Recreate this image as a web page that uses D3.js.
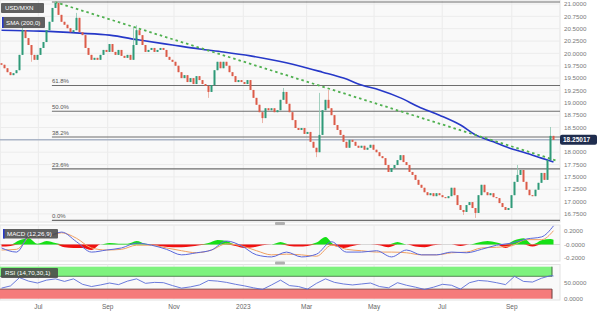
<!DOCTYPE html>
<html><head><meta charset="utf-8">
<script src="https://cdn.jsdelivr.net/npm/d3@7"></script>
<style>html,body{margin:0;padding:0;background:#fff;} svg{display:block;font-family:"Liberation Sans",Arial,sans-serif;}</style>
</head><body><svg id="c" width="600" height="313"></svg>
<script>
// ---------- DATA ----------
const firstOpen = 19.80;
const closes = [
19.77,19.70,19.62,19.56,19.60,19.66,19.97,20.47,20.31,20.17,
19.97,19.87,19.97,20.11,20.23,20.47,20.64,20.92,21.02,20.78,
20.64,20.58,20.51,20.43,20.47,20.72,20.43,20.37,20.11,19.97,
19.87,19.91,19.87,19.97,20.07,20.03,20.19,20.03,19.97,20.07,
19.95,19.91,19.97,19.87,20.17,20.47,20.37,20.17,20.03,20.07,
20.11,20.03,20.07,20.11,20.07,19.93,19.87,19.83,19.75,19.62,
19.50,19.56,19.42,19.50,19.38,19.54,19.46,19.38,19.34,19.22,
19.36,19.66,19.83,19.70,19.83,19.75,19.62,19.54,19.42,19.46,
19.42,19.38,19.46,19.26,19.10,18.96,18.81,18.69,18.89,18.85,
18.89,18.81,18.85,19.06,19.22,18.98,18.81,18.65,18.49,18.45,
18.49,18.37,18.41,18.21,18.09,18.00,18.35,18.85,19.06,18.89,
18.75,18.55,18.45,18.35,18.21,18.09,18.25,18.21,18.13,18.09,
18.13,18.05,18.09,18.15,18.05,18.00,17.92,17.88,17.74,17.60,
17.68,17.74,17.84,17.94,17.80,17.74,17.60,17.54,17.44,17.34,
17.28,17.19,17.13,17.17,17.11,17.17,17.13,17.09,17.07,17.11,
17.28,17.13,16.93,16.83,16.79,16.93,16.99,16.87,16.77,17.13,
17.34,17.19,17.13,17.17,17.09,17.07,16.97,16.89,16.83,16.87,
17.13,17.40,17.54,17.64,17.40,17.24,17.13,17.11,17.24,17.38,
17.58,17.44,17.84,18.33,18.25
];
const wickHigh = [[7,20.62],[18,21.06],[25,20.82],[44,20.53],[45,20.57],[94,19.30],[106,19.20],[109,19.26],[172,17.74],[183,18.51]];
const wickLow = [[10,19.83],[69,19.10],[87,18.59],[105,17.90],[154,16.73],[158,16.67]];

const smaIdx = [0,13,26,36,46,57,66,74,83,90,99,107,114,120,126,133,139,146,153,158,164,169,175,180,184];
const smaVal = [20.47,20.45,20.41,20.37,20.27,20.17,20.09,20.03,19.95,19.87,19.75,19.62,19.50,19.36,19.26,19.10,18.92,18.75,18.55,18.35,18.21,18.09,17.98,17.88,17.80];

const trendIdx = [17.8, 185];
const trendVal = [21.04, 17.83];

const fibStartIdx = 16.8;
const fibHigh = 21.04, fibLow = 16.62;
const fibLevels = [0, 0.236, 0.382, 0.5, 0.618, 1];
const fibLabels = ["0.0%", "23.6%", "38.2%", "50.0%", "61.8%", ""];
const lastPrice = 18.25017;
const lastPriceLabel = "18.25017";

const priceTicks = [21,20.75,20.5,20.25,20,19.75,19.5,19.25,19,18.75,18.5,18.25,18,17.75,17.5,17.25,17,16.75];

const lineIdx = [0,5,10,15,20,25,30,35,40,45,50,55,60,65,70,75,80,85,90,95,100,105,110,115,120,125,130,135,140,145,150,155,160,165,170,175,180,184];
const macdVal = [-0.05,-0.11,0.17,0.12,0.18,0.04,-0.11,-0.08,-0.05,0.02,-0.01,-0.07,-0.15,-0.12,-0.08,0.05,-0.02,-0.15,-0.18,-0.11,-0.18,-0.14,0.04,-0.11,-0.11,-0.09,-0.18,-0.08,-0.15,-0.15,-0.11,-0.12,-0.07,-0.01,0.02,0.08,0.11,0.27];
const signalVal = [-0.08,-0.07,0.12,0.11,0.17,0.09,-0.05,-0.08,-0.07,-0.01,-0.01,-0.05,-0.09,-0.12,-0.08,0.01,-0.02,-0.09,-0.15,-0.14,-0.15,-0.17,-0.01,-0.07,-0.09,-0.11,-0.11,-0.12,-0.15,-0.15,-0.12,-0.11,-0.05,-0.04,-0.02,0.07,0.07,0.20];

const histIdx = [0,3,6,9,12,15,18,21,24,27,30,33,36,39,42,45,48,51,54,57,60,63,66,69,72,75,78,81,84,87,90,93,96,99,102,105,108,111,114,117,120,123,126,129,132,135,138,141,144,147,150,153,156,159,162,165,168,171,174,177,180,183,184];
const histVal = [-0.03,-0.02,0.06,0.09,0.01,0.05,0.02,-0.04,-0.05,-0.05,
-0.08,0.00,0.02,0.01,0.01,0.05,0.01,-0.01,-0.03,-0.04,
-0.04,-0.03,-0.01,0.02,0.065,0.05,-0.02,-0.05,-0.04,-0.01,
0.00,0.035,-0.02,-0.03,-0.02,0.03,0.11,-0.02,-0.05,-0.02,
0.00,0.00,-0.01,-0.04,0.035,0.00,-0.03,-0.04,-0.01,0.00,
0.00,-0.02,0.00,0.03,0.05,0.03,-0.05,0.06,0.09,-0.03,
0.06,0.08,0.07];
const rsiVal = [33,40,66,55,49,58,62,54,62,45,
38,43,49,44,55,62,48,51,50,41,
33,37,43,57,55,51,45,40,34,29,
43,58,41,38,30,48,62,51,46,43,
46,49,38,34,50,42,36,29,36,45,
42,30,50,57,55,50,44,70,54,52,
64,72,71];

const macdTicks = [0.2, 0, -0.2];
const macdTickLabels = ["0.2000", "-0.0000", "-0.2000"];
const rsiTicks = [50, 0];
const rsiTickLabels = ["50.0000", "0.0000"];
const rsiUpper = 70, rsiLower = 30;

const monthIdx = [12.3, 35.4, 57.5, 80.6, 101.7, 124.2, 146.9, 170.1];
const monthLabels = ["Jul", "Sep", "Nov", "2023", "Mar", "May", "Jul", "Sep"];

const seriesName = "USD/MXN";
const smaName = "SMA (200,0)";
const macdName = "MACD (12,26,9)";
const rsiName = "RSI (14,70,30,1)";

// ---------- LAYOUT ----------
const svg = d3.select("#c");
const plotW = 560;
const main = {top: 0, bottom: 222};
const mac = {top: 225, bottom: 261};
const rsiP = {top: 264.5, bottom: 300};
const axisX = 564;

const x = d3.scaleLinear().domain([-0.5, 184.5]).range([0, 555]);
const y = d3.scaleLinear().domain([16.75, 21]).range([213.95, 4]);
const ym = d3.scaleLinear().domain([-0.2, 0.2]).range([258.3, 230.7]);
const yr = d3.scaleLinear().domain([0, 100]).range([298.7, 266.7]);

const defs = svg.append("defs");
defs.append("clipPath").attr("id","cm").append("rect").attr("x",0).attr("y",main.top).attr("width",plotW).attr("height",main.bottom-main.top);
defs.append("clipPath").attr("id","cmac").append("rect").attr("x",0).attr("y",mac.top).attr("width",plotW).attr("height",mac.bottom-mac.top);
defs.append("clipPath").attr("id","crsi").append("rect").attr("x",0).attr("y",rsiP.top).attr("width",plotW).attr("height",rsiP.bottom-rsiP.top);

// panel backgrounds
[main, mac, rsiP].forEach(p => {
  svg.append("rect").attr("x",0).attr("y",p.top).attr("width",plotW).attr("height",p.bottom-p.top)
    .attr("fill","#f9f9f9").attr("stroke","#e2e2e2").attr("stroke-width",1);
});

// vertical gridlines
[main, mac, rsiP].forEach(p => {
  svg.append("g").selectAll("line").data(monthIdx).join("line")
    .attr("x1",d=>x(d)).attr("x2",d=>x(d)).attr("y1",p.top).attr("y2",p.bottom)
    .attr("stroke","#ebebeb").attr("stroke-width",1);
});

// main horizontal grid
const gM = svg.append("g").attr("clip-path","url(#cm)");
gM.selectAll("line.grid").data(priceTicks).join("line").attr("class","grid")
  .attr("x1",0).attr("x2",plotW).attr("y1",d=>y(d)).attr("y2",d=>y(d))
  .attr("stroke","#ececec").attr("stroke-width",1);

// fib lines
const fibs = fibLevels.map((l,i)=>({v: fibLow + l*(fibHigh-fibLow), label: fibLabels[i]}));
gM.selectAll("line.fib").data(fibs).join("line").attr("class","fib")
  .attr("x1",x(fibStartIdx)).attr("x2",plotW).attr("y1",d=>y(d.v)).attr("y2",d=>y(d.v))
  .attr("stroke","#6e6e6e").attr("stroke-width",1.1);
gM.selectAll("text.fib").data(fibs).join("text").attr("class","fib")
  .attr("x",x(fibStartIdx)).attr("y",d=>y(d.v)-2).text(d=>d.label)
  .attr("font-size",6).attr("fill","#555");

// last price line
gM.append("line").attr("x1",0).attr("x2",plotW).attr("y1",y(lastPrice)).attr("y2",y(lastPrice))
  .attr("stroke","#8a98b4").attr("stroke-width",1);

// SMA
gM.append("path").datum(smaIdx.map((d,i)=>[d,smaVal[i]]))
  .attr("d", d3.line().x(d=>x(d[0])).y(d=>y(d[1])).curve(d3.curveMonotoneX))
  .attr("fill","none").attr("stroke","#2638c8").attr("stroke-width",1.6);

// trend line
gM.append("path").datum(trendIdx.map((d,i)=>[d,trendVal[i]]))
  .attr("d", d3.line().x(d=>x(d[0])).y(d=>y(d[1])))
  .attr("fill","none").attr("stroke","#4fb04f").attr("stroke-width",1.8).attr("stroke-dasharray","2.5,3");

// candles
const hiMap = new Map(wickHigh), loMap = new Map(wickLow);
const candles = closes.map((c,i)=>{
  const o = i===0 ? firstOpen : closes[i-1];
  const h = hiMap.has(i) ? hiMap.get(i) : Math.max(o,c);
  const l = loMap.has(i) ? loMap.get(i) : Math.min(o,c);
  return {i,o,c,h,l,up:c>=o};
});
const gC = gM.append("g");
gC.selectAll("line").data(candles).join("line")
  .attr("x1",d=>x(d.i)).attr("x2",d=>x(d.i)).attr("y1",d=>y(d.h)).attr("y2",d=>y(d.l))
  .attr("stroke",d=>d.up?"#8cc5b0":"#e8a396").attr("stroke-width",0.8);
gC.selectAll("rect").data(candles).join("rect")
  .attr("x",d=>x(d.i)-1).attr("width",2)
  .attr("y",d=>y(Math.max(d.o,d.c))).attr("height",d=>Math.max(0.8, Math.abs(y(d.o)-y(d.c))))
  .attr("fill",d=>d.up?"#2f9a78":"#dc5b48");

// price axis labels (the last-price tag covers the tick it sits on)
svg.append("g").selectAll("text").data(priceTicks.filter(t=>Math.abs(y(t)-y(lastPrice))>7)).join("text")
  .attr("x",axisX).attr("y",d=>y(d)).attr("dy","0.35em").text(d=>d.toFixed(4))
  .attr("font-size",6.2).attr("fill","#7a7a7a");

// last price tag
svg.append("rect").attr("x",plotW).attr("y",y(lastPrice)-5).attr("width",37).attr("height",10).attr("rx",2)
  .attr("fill","#1f2d4e");
svg.append("text").attr("x",axisX-1).attr("y",y(lastPrice)).attr("dy","0.35em").text(lastPriceLabel)
  .attr("font-size",6.5).attr("font-weight","bold").attr("fill","#fff");

// ---------- MACD ----------
const gMac = svg.append("g").attr("clip-path","url(#cmac)");
gMac.append("line").attr("x1",0).attr("x2",plotW).attr("y1",ym(0)).attr("y2",ym(0)).attr("stroke","#d8d8d8");
const histPts = histIdx.map((d,i)=>[d,histVal[i]]);
gMac.append("path").datum(histPts)
  .attr("d", d3.area().x(d=>x(d[0])).y0(ym(0)).y1(d=>ym(Math.max(0,d[1]))).curve(d3.curveMonotoneX))
  .attr("fill","#16e016");
gMac.append("path").datum(histPts)
  .attr("d", d3.area().x(d=>x(d[0])).y0(ym(0)).y1(d=>ym(Math.min(0,d[1]))).curve(d3.curveMonotoneX))
  .attr("fill","#f01010");
gMac.append("path").datum(lineIdx.map((d,i)=>[d,signalVal[i]]))
  .attr("d", d3.line().x(d=>x(d[0])).y(d=>ym(d[1])).curve(d3.curveMonotoneX))
  .attr("fill","none").attr("stroke","#f0a062").attr("stroke-width",1);
gMac.append("path").datum(lineIdx.map((d,i)=>[d,macdVal[i]]))
  .attr("d", d3.line().x(d=>x(d[0])).y(d=>ym(d[1])).curve(d3.curveMonotoneX))
  .attr("fill","none").attr("stroke","#5a68dc").attr("stroke-width",1);
svg.append("g").selectAll("text").data(macdTicks).join("text")
  .attr("x",axisX).attr("y",d=>ym(d)).attr("dy","0.35em").text((d,i)=>macdTickLabels[i])
  .attr("font-size",6.2).attr("fill","#7a7a7a");

// ---------- RSI ----------
const gR = svg.append("g").attr("clip-path","url(#crsi)");
const bandRight = x(183.5);
gR.append("rect").attr("x",0).attr("y",yr(100)).attr("width",bandRight).attr("height",yr(rsiUpper)-yr(100))
  .attr("fill","#7ef27e");
gR.append("rect").attr("x",0).attr("y",yr(rsiLower)).attr("width",bandRight).attr("height",yr(0)-yr(rsiLower))
  .attr("fill","#f57b7b");
gR.append("line").attr("x1",0).attr("x2",bandRight).attr("y1",yr(rsiUpper)).attr("y2",yr(rsiUpper)).attr("stroke","#3d6b3d").attr("stroke-width",0.8);
gR.append("line").attr("x1",0).attr("x2",bandRight).attr("y1",yr(rsiLower)).attr("y2",yr(rsiLower)).attr("stroke","#6b3d3d").attr("stroke-width",0.8);
gR.append("line").attr("x1",bandRight).attr("x2",bandRight).attr("y1",yr(100)).attr("y2",yr(rsiUpper)).attr("stroke","#3d6b3d").attr("stroke-width",1);
gR.append("line").attr("x1",bandRight).attr("x2",bandRight).attr("y1",yr(rsiLower)).attr("y2",yr(0)).attr("stroke","#6b3d3d").attr("stroke-width",1);
gR.append("path").datum(histIdx.map((d,i)=>[d,rsiVal[i]]))
  .attr("d", d3.line().x(d=>x(d[0])).y(d=>yr(d[1])))
  .attr("fill","none").attr("stroke","#5a6cd8").attr("stroke-width",0.9);
svg.append("g").selectAll("text").data(rsiTicks).join("text")
  .attr("x",axisX).attr("y",d=>yr(d)).attr("dy","0.35em").text((d,i)=>rsiTickLabels[i])
  .attr("font-size",6.2).attr("fill","#7a7a7a");

// separators handles
[223.5, 263].forEach(yy=>{
  svg.append("rect").attr("x",275).attr("y",yy-1.5).attr("width",10).attr("height",3).attr("rx",1).attr("fill","#b0b0b0");
});

// month labels
svg.append("g").selectAll("text").data(monthIdx).join("text")
  .attr("x",d=>x(d)).attr("y",307).attr("dy","0.35em").attr("text-anchor","middle")
  .text((d,i)=>monthLabels[i]).attr("font-size",6.5).attr("fill","#666");

// ---------- LEGENDS ----------
function legend(px, py, w, h, label, bar) {
  const g = svg.append("g");
  g.append("rect").attr("x",px).attr("y",py).attr("width",w).attr("height",h).attr("rx",1)
    .attr("fill","#4a4a4a").attr("fill-opacity",0.88);
  if (bar) g.append("rect").attr("x",px).attr("y",py).attr("width",1.6).attr("height",h).attr("fill",bar);
  g.append("text").attr("x",px+4).attr("y",py+h/2).attr("dy","0.35em").text(label)
    .attr("font-size",6.2).attr("fill","#fff");
}
legend(1, 3, 43, 10, seriesName, null);
legend(2, 17, 43, 11, smaName, "#2638c8");
legend(3, 229, 55, 9.5, macdName, "#2638c8");
legend(1, 268, 57, 10, rsiName, null);
</script>
</body></html>
